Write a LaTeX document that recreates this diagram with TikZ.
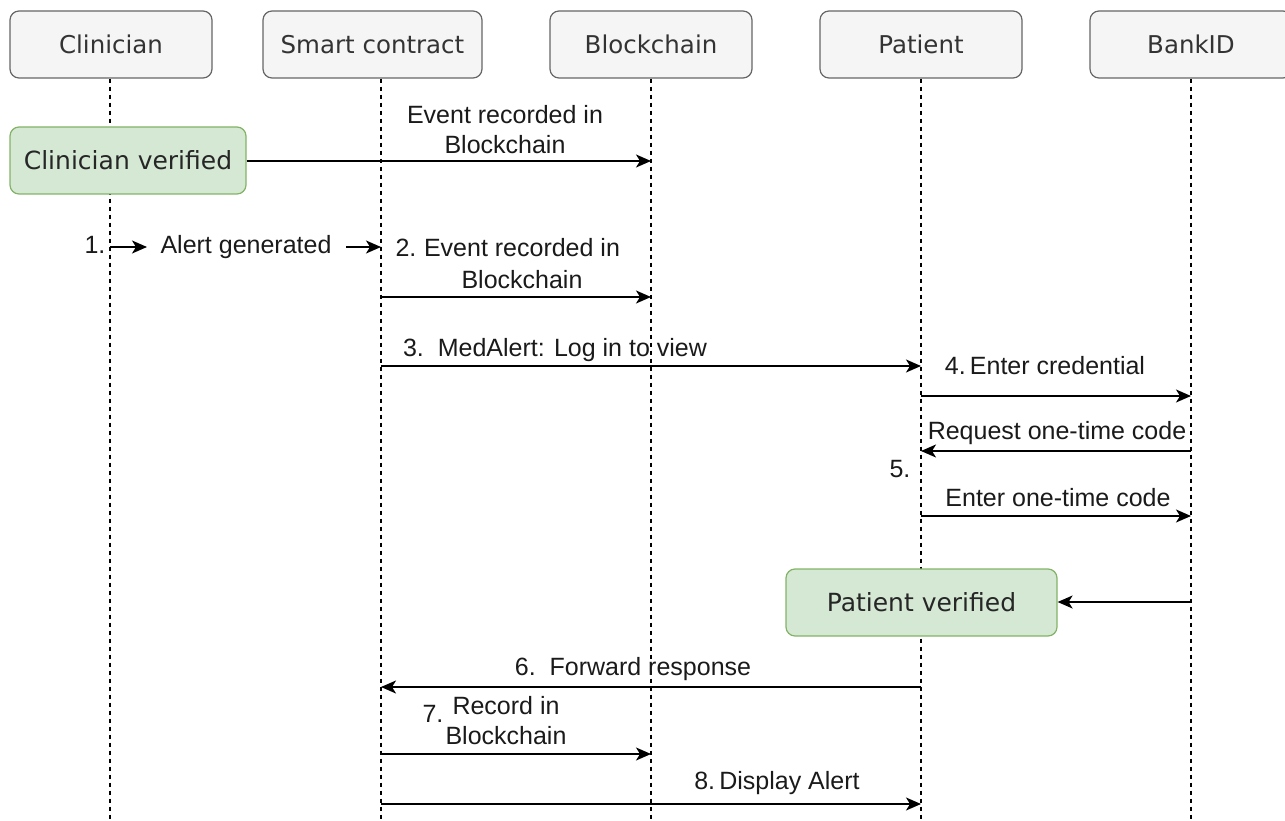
\documentclass[tikz,border=0pt]{standalone}
\usepackage{fontspec}
\setmainfont{Liberation Sans}
\newfontfamily\dvs{DejaVu Sans}
\usetikzlibrary{arrows.meta}
\definecolor{hdrfill}{HTML}{F5F5F5}
\definecolor{hdrdraw}{HTML}{666666}
\definecolor{okfill}{HTML}{D5E8D4}
\definecolor{okdraw}{HTML}{82B366}
\definecolor{txt}{HTML}{1A1A1A}
\begin{document}
\begin{tikzpicture}[x=1pt,y=-1pt,
  hdr/.style={draw=hdrdraw, fill=hdrfill, rounded corners=9pt, line width=1.2pt,
    minimum height=67pt, inner sep=0pt, text=black!80,
    font=\dvs\fontsize{24.5}{28}\selectfont},
  okbox/.style={draw=okdraw, fill=okfill, rounded corners=9pt, line width=1.2pt,
    minimum height=67pt, inner sep=0pt, text=black!85,
    font=\dvs\fontsize{25}{29}\selectfont},
  life/.style={draw=black, line width=1.3pt, dash pattern=on 4pt off 4pt},
  msg/.style={draw=black, line width=1.6pt, -{Stealth[length=15pt,width=13pt,inset=4pt]}},
  lbl/.style={inner sep=0pt, text=txt, align=center, font=\fontsize{25}{30}\selectfont},
]
\useasboundingbox (0,0) rectangle (1285,821);

% lifeline ends
\coordinate (cb) at (110,821);
\coordinate (sb) at (381,821);
\coordinate (bb) at (651,821);
\coordinate (pb) at (921,821);
\coordinate (kb) at (1191,821);

% headers
\node[hdr, minimum width=202pt] (clin) at (111,44.5) {Clinician};
\node[hdr, minimum width=219pt] (smart) at (372.5,44.5) {Smart contract};
\node[hdr, minimum width=202pt] (block) at (651,44.5) {Blockchain};
\node[hdr, minimum width=202pt] (pat) at (921,44.5) {Patient};
\node[hdr, minimum width=202pt] (bank) at (1191,44.5) {BankID};

\draw[life] (clin.south -| cb) -- (cb);
\draw[life] (smart.south -| sb) -- (sb);
\draw[life] (block.south) -- (bb);
\draw[life] (pat.south) -- (pb);
\draw[life] (bank.south) -- (kb);

% clinician verified
\node[okbox, minimum width=236pt] (cv) at (128,160.5) {Clinician verified};
\coordinate (a0) at (651,161);
\draw[msg] (cv.east |- a0) -- (a0);
\node[lbl] (l0) at (505,130) {Event recorded in\\Blockchain};

% step 1
\node[lbl] (n1) at (95,245) {1.};
\coordinate (a1s) at (110,247);
\coordinate (a1e) at (147,247);
\draw[msg] (a1s) -- (a1e);
\node[lbl] (l1) at (246,247) {Alert generated};
\coordinate (a1bs) at (346,247);
\coordinate (a1be) at (381,247);
\draw[msg] (a1bs) -- (a1be);

% step 2
\node[lbl] (n2) at (406,248) {2.};
\node[lbl, font=\fontsize{25}{32}\selectfont] (l2) at (522,264) {Event recorded in\\Blockchain};
\coordinate (a2s) at (381,297);
\coordinate (a2e) at (651,297);
\draw[msg] (a2s) -- (a2e);

% step 3
\node[lbl] (l3) at (555,350) {3.\ \ MedAlert: Log in to view};
\coordinate (a3s) at (381,366);
\coordinate (a3e) at (921,366);
\draw[msg] (a3s) -- (a3e);

% step 4
\node[lbl] (l4) at (1045,366) {4.\,Enter credential};
\coordinate (a4s) at (921,396);
\coordinate (a4e) at (1191,396);
\draw[msg] (a4s) -- (a4e);

% step 5
\node[lbl] (l5a) at (1057,433) {Request one-time code};
\coordinate (a5s) at (1191,451);
\coordinate (a5e) at (921,451);
\draw[msg] (a5s) -- (a5e);
\node[lbl] (n5) at (900,469) {5.};
\node[lbl] (l5b) at (1058,498) {Enter one-time code};
\coordinate (a5bs) at (921,516);
\coordinate (a5be) at (1191,516);
\draw[msg] (a5bs) -- (a5be);

% patient verified
\node[okbox, minimum width=271pt] (pv) at (921.5,602.5) {Patient verified};
\coordinate (a5cs) at (1191,602);
\draw[msg] (a5cs) -- (pv.east |- a5cs);

% step 6
\node[lbl] (l6) at (633,669) {6.\ \ Forward response};
\coordinate (a6s) at (921,687);
\coordinate (a6e) at (381,687);
\draw[msg] (a6s) -- (a6e);

% step 7
\node[lbl] (n7) at (433,714) {7.};
\node[lbl] (l7) at (506,721) {Record in\\Blockchain};
\coordinate (a7s) at (381,754);
\coordinate (a7e) at (651,754);
\draw[msg] (a7s) -- (a7e);

% step 8
\node[lbl] (l8) at (777,783) {8.\,Display Alert};
\coordinate (a8s) at (381,804);
\coordinate (a8e) at (921,804);
\draw[msg] (a8s) -- (a8e);
\end{tikzpicture}
\end{document}
